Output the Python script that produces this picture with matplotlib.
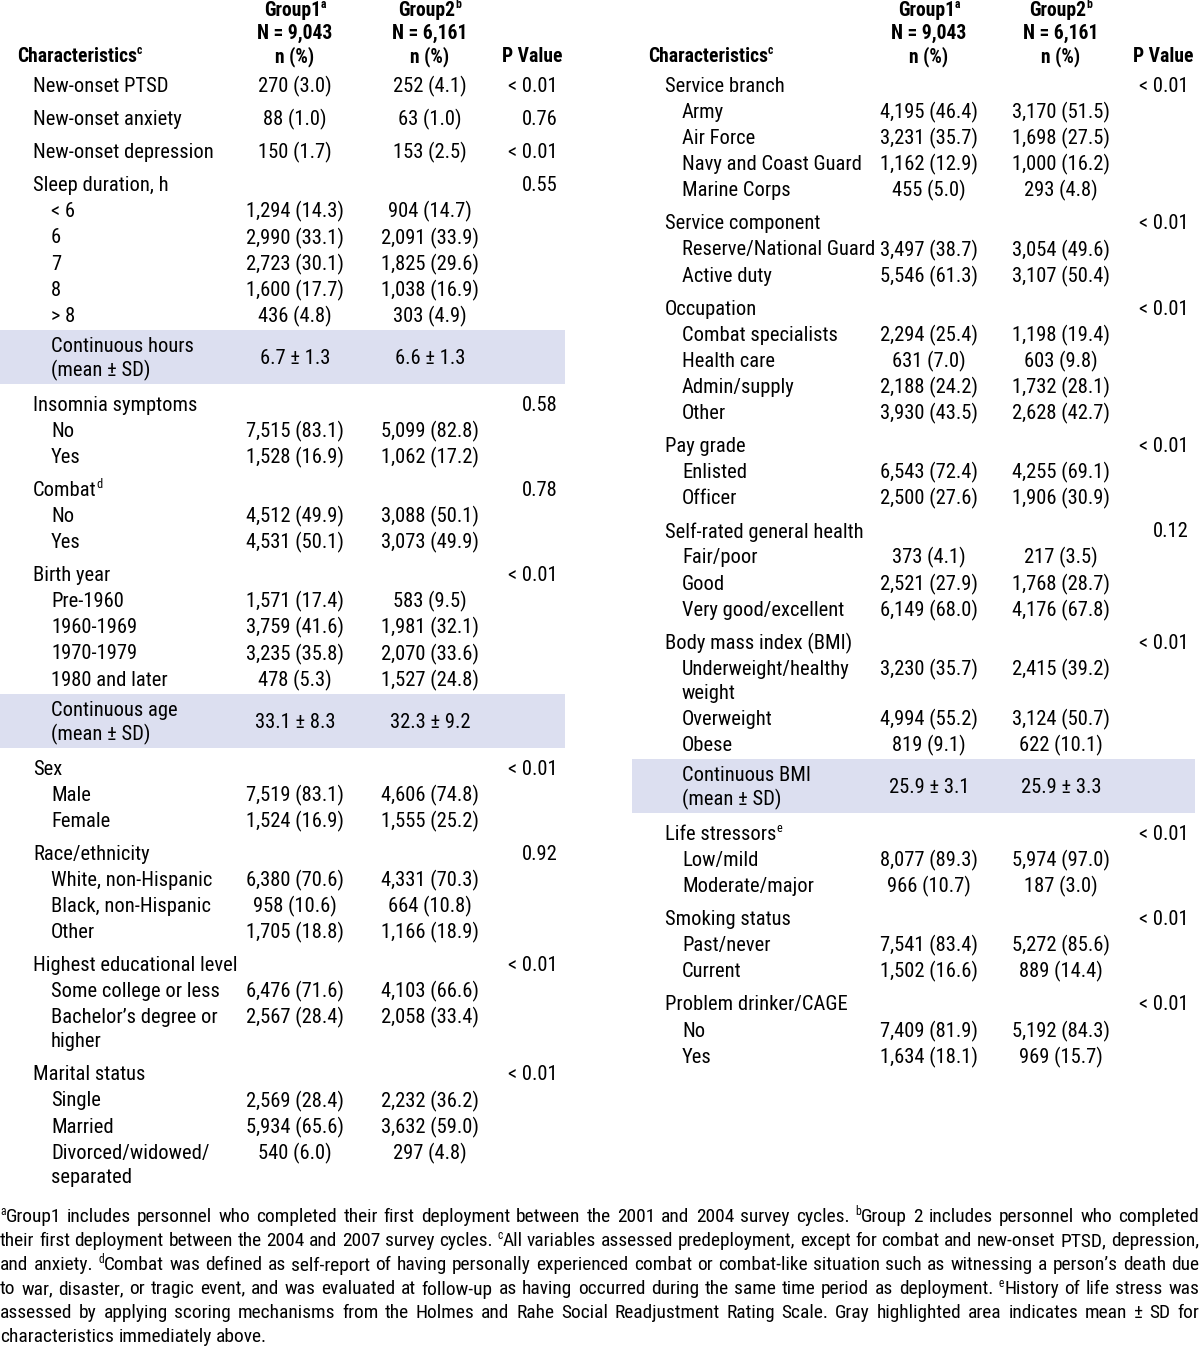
import re
import matplotlib.pyplot as plt
from matplotlib import font_manager
from matplotlib.font_manager import FontProperties
from matplotlib.patches import Rectangle

# ---- data --------------------------------------------------------------
header_g1 = ["Group1^a", "N = 9,043", "n (%)"]
header_g2 = ["Group2^b", "N = 6,161", "n (%)"]
header_char = "Characteristics^c"
header_p = "P Value"

# kinds: var = variable heading, cat = category, mean = mean ± SD row
left_kinds = ["var", "var", "var", "var", "cat", "cat", "cat", "cat", "cat", "mean",
              "var", "cat", "cat", "var", "cat", "cat",
              "var", "cat", "cat", "cat", "cat", "mean",
              "var", "cat", "cat", "var", "cat", "cat", "cat",
              "var", "cat", "cat", "var", "cat", "cat", "cat"]
left_labels = ["New-onset PTSD", "New-onset anxiety", "New-onset depression", "Sleep duration, h",
               "< 6", "6", "7", "8", "> 8", "Continuous hours\n(mean ± SD)",
               "Insomnia symptoms", "No", "Yes", "Combat^d", "No", "Yes",
               "Birth year", "Pre-1960", "1960-1969", "1970-1979", "1980 and later",
               "Continuous age\n(mean ± SD)",
               "Sex", "Male", "Female", "Race/ethnicity", "White, non-Hispanic",
               "Black, non-Hispanic", "Other",
               "Highest educational level", "Some college or less", "Bachelor’s degree or\nhigher",
               "Marital status", "Single", "Married", "Divorced/widowed/\nseparated"]
left_g1 = ["270 (3.0)", "88 (1.0)", "150 (1.7)", "",
           "1,294 (14.3)", "2,990 (33.1)", "2,723 (30.1)", "1,600 (17.7)", "436 (4.8)", "6.7 ± 1.3",
           "", "7,515 (83.1)", "1,528 (16.9)", "", "4,512 (49.9)", "4,531 (50.1)",
           "", "1,571 (17.4)", "3,759 (41.6)", "3,235 (35.8)", "478 (5.3)", "33.1 ± 8.3",
           "", "7,519 (83.1)", "1,524 (16.9)", "", "6,380 (70.6)", "958 (10.6)", "1,705 (18.8)",
           "", "6,476 (71.6)", "2,567 (28.4)", "", "2,569 (28.4)", "5,934 (65.6)", "540 (6.0)"]
left_g2 = ["252 (4.1)", "63 (1.0)", "153 (2.5)", "",
           "904 (14.7)", "2,091 (33.9)", "1,825 (29.6)", "1,038 (16.9)", "303 (4.9)", "6.6 ± 1.3",
           "", "5,099 (82.8)", "1,062 (17.2)", "", "3,088 (50.1)", "3,073 (49.9)",
           "", "583 (9.5)", "1,981 (32.1)", "2,070 (33.6)", "1,527 (24.8)", "32.3 ± 9.2",
           "", "4,606 (74.8)", "1,555 (25.2)", "", "4,331 (70.3)", "664 (10.8)", "1,166 (18.9)",
           "", "4,103 (66.6)", "2,058 (33.4)", "", "2,232 (36.2)", "3,632 (59.0)", "297 (4.8)"]
left_p = ["< 0.01", "0.76", "< 0.01", "0.55", "", "", "", "", "", "",
          "0.58", "", "", "0.78", "", "",
          "< 0.01", "", "", "", "", "",
          "< 0.01", "", "", "0.92", "", "", "",
          "< 0.01", "", "", "< 0.01", "", "", ""]

right_kinds = ["var", "cat", "cat", "cat", "cat", "var", "cat", "cat",
               "var", "cat", "cat", "cat", "cat", "var", "cat", "cat",
               "var", "cat", "cat", "cat", "var", "cat", "cat", "cat", "mean",
               "var", "cat", "cat", "var", "cat", "cat", "var", "cat", "cat"]
right_labels = ["Service branch", "Army", "Air Force", "Navy and Coast Guard", "Marine Corps",
                "Service component", "Reserve/National Guard", "Active duty",
                "Occupation", "Combat specialists", "Health care", "Admin/supply", "Other",
                "Pay grade", "Enlisted", "Officer",
                "Self-rated general health", "Fair/poor", "Good", "Very good/excellent",
                "Body mass index (BMI)", "Underweight/healthy\nweight", "Overweight", "Obese",
                "Continuous BMI\n(mean ± SD)",
                "Life stressors^e", "Low/mild", "Moderate/major",
                "Smoking status", "Past/never", "Current",
                "Problem drinker/CAGE", "No", "Yes"]
right_g1 = ["", "4,195 (46.4)", "3,231 (35.7)", "1,162 (12.9)", "455 (5.0)",
            "", "3,497 (38.7)", "5,546 (61.3)",
            "", "2,294 (25.4)", "631 (7.0)", "2,188 (24.2)", "3,930 (43.5)",
            "", "6,543 (72.4)", "2,500 (27.6)",
            "", "373 (4.1)", "2,521 (27.9)", "6,149 (68.0)",
            "", "3,230 (35.7)", "4,994 (55.2)", "819 (9.1)", "25.9 ± 3.1",
            "", "8,077 (89.3)", "966 (10.7)", "", "7,541 (83.4)", "1,502 (16.6)",
            "", "7,409 (81.9)", "1,634 (18.1)"]
right_g2 = ["", "3,170 (51.5)", "1,698 (27.5)", "1,000 (16.2)", "293 (4.8)",
            "", "3,054 (49.6)", "3,107 (50.4)",
            "", "1,198 (19.4)", "603 (9.8)", "1,732 (28.1)", "2,628 (42.7)",
            "", "4,255 (69.1)", "1,906 (30.9)",
            "", "217 (3.5)", "1,768 (28.7)", "4,176 (67.8)",
            "", "2,415 (39.2)", "3,124 (50.7)", "622 (10.1)", "25.9 ± 3.3",
            "", "5,974 (97.0)", "187 (3.0)", "", "5,272 (85.6)", "889 (14.4)",
            "", "5,192 (84.3)", "969 (15.7)"]
right_p = ["< 0.01", "", "", "", "", "< 0.01", "", "",
           "< 0.01", "", "", "", "", "< 0.01", "", "",
           "0.12", "", "", "", "< 0.01", "", "", "", "",
           "< 0.01", "", "", "< 0.01", "", "", "< 0.01", "", ""]

footnote_lines = [
    "^aGroup1 includes personnel who completed their first deployment between the 2001 and 2004 survey cycles. ^bGroup 2 includes personnel who completed",
    "their first deployment between the 2004 and 2007 survey cycles. ^cAll variables assessed predeployment, except for combat and new-onset PTSD, depression,",
    "and anxiety. ^dCombat was defined as self-report of having personally experienced combat or combat-like situation such as witnessing a person’s death due",
    "to war, disaster, or tragic event, and was evaluated at follow-up as having occurred during the same time period as deployment. ^eHistory of life stress was",
    "assessed by applying scoring mechanisms from the Holmes and Rahe Social Readjustment Rating Scale. Gray highlighted area indicates mean ± SD for",
    "characteristics immediately above.",
]

# ---- font: look for a narrow / condensed sans ---------------------------
def _num(v, table):
    if isinstance(v, str):
        return table.get(v, 400 if table is font_manager.weight_dict else 500)
    return v

prefer = ['Liberation Sans Narrow', 'Roboto Condensed', 'Noto Sans', 'Open Sans',
          'Noto Sans Condensed', 'Open Sans Condensed', 'Roboto', 'Lato', 'Inter']
groups = {}
for f in font_manager.fontManager.ttflist:
    st = _num(f.stretch, font_manager.stretch_dict)
    narrow = st <= 400 or 'Narrow' in f.name or 'Condensed' in f.name
    if not narrow or f.style != 'normal':
        continue
    w = _num(f.weight, font_manager.weight_dict)
    groups.setdefault((f.name, st), {})[w] = f.fname

REG = FontProperties(family='Liberation Sans')
BOLD = FontProperties(family='Liberation Sans', weight='bold')
best = None
for (name, st), faces in groups.items():
    if 400 not in faces or not any(w >= 600 for w in faces):
        continue
    rank = prefer.index(name) if name in prefer else len(prefer)
    key = (rank, abs(st - 300))
    if best is None or key < best[0]:
        bw = min((w for w in faces if w >= 600), key=lambda w: abs(w - 700))
        best = (key, faces[400], faces[bw])
if best is not None:
    REG = FontProperties(fname=best[1])
    BOLD = FontProperties(fname=best[2])

# ---- figure ------------------------------------------------------------
fig = plt.figure(figsize=(12, 13.55), dpi=100)
ax = fig.add_axes([0, 0, 1, 1])
ax.set_xlim(0, 1200)
ax.set_ylim(1355, 0)
ax.axis('off')
renderer = fig.canvas.get_renderer()

HILITE = '#dcdff0'
DY = 1.5  # small baseline nudge


def measure(s, size, fp):
    t = ax.text(0, 0, s, fontproperties=fp, fontsize=size)
    w = t.get_window_extent(renderer).width
    t.remove()
    return w


# fit the size so the text widths match the reference
FS = min(14 * 136 / measure("New-onset PTSD", 14, REG), 16)
FSB = min(14 * 120 / measure("Characteristics", 14, BOLD), 16)


def rich(x, y, s, ha='left', size=None, bold=False, draw=True):
    # text with ^x superscripts; returns total width in px
    if size is None:
        size = FSB if bold else FS
    fp = BOLD if bold else REG
    parts = re.split(r'(\^\w)', s)
    segs = []
    for p in parts:
        if not p:
            continue
        if p.startswith('^'):
            t = ax.text(0, y + DY - 6, p[1:], fontproperties=fp, fontsize=size * 0.6, va='center')
        else:
            t = ax.text(0, y + DY, p, fontproperties=fp, fontsize=size, va='center')
        segs.append((t, t.get_window_extent(renderer).width))
    total = sum(w for _, w in segs)
    if ha == 'center':
        x0 = x - total / 2
    elif ha == 'right':
        x0 = x - total
    else:
        x0 = x
    for t, w in segs:
        if draw:
            t.set_x(x0)
        else:
            t.remove()
        x0 += w
    return total


ROW, GROUP, WRAP = 26.08, 33.1, 24


def draw_table(kinds, labels, g1, g2, pv, col):
    y = 85
    last = None
    prev = None
    for k, lab, a, b, p in zip(kinds, labels, g1, g2, pv):
        lines = lab.split('\n')
        if prev is not None:
            if k == 'mean':
                y = last + 15 + 27
            elif prev == 'mean':
                y = last + 20
            elif k == 'var':
                y = last + GROUP
            else:
                y = last + ROW
        if k == 'mean':
            ax.add_patch(Rectangle((col['box'][0], y - 27), col['box'][1] - col['box'][0], 54,
                                   facecolor=HILITE, edgecolor='none', zorder=0))
            for i, ln in enumerate(lines):
                rich(col['cat'], y - 12 + WRAP * i, ln)
            last = y + 27
        else:
            xl = col['var'] if k == 'var' else col['cat']
            for i, ln in enumerate(lines):
                rich(xl, y + WRAP * i, ln)
            last = y + WRAP * (len(lines) - 1)
        if a:
            rich(col['g1'], y, a, ha='center')
        if b:
            rich(col['g2'], y, b, ha='center')
        if p:
            rich(col['p'], y, p, ha='right')
        prev = k

    # header
    for i, (h1, h2) in enumerate(zip(header_g1, header_g2)):
        rich(col['g1'], 9 + 23 * i, h1, ha='center', bold=True)
        rich(col['g2'], 9 + 23 * i, h2, ha='center', bold=True)
    rich(col['head'], 55, header_char, bold=True)
    rich(col['ph'], 55, header_p, ha='center', bold=True)


left_cols = dict(head=17, var=33, cat=51, g1=295, g2=430, p=558, ph=532, box=(0, 565))
right_cols = dict(head=648, var=665, cat=682, g1=929, g2=1061, p=1189, ph=1163, box=(632, 1195))

draw_table(left_kinds, left_labels, left_g1, left_g2, left_p, left_cols)
draw_table(right_kinds, right_labels, right_g1, right_g2, right_p, right_cols)

# footnote, justified to full width
fn_size = FS
space_w = measure("a a", fn_size, REG) - measure("aa", fn_size, REG)
natural = [sum(rich(0, 0, w, size=fn_size, draw=False) for w in ln.split(' '))
           + space_w * (len(ln.split(' ')) - 1) for ln in footnote_lines]
if max(natural) > 1196:
    fn_size = fn_size * 1196 / max(natural)
    space_w = measure("a a", fn_size, REG) - measure("aa", fn_size, REG)

for i, line in enumerate(footnote_lines):
    y = 1216 + 24 * i
    words = line.split(' ')
    widths = [rich(0, y, w, size=fn_size, draw=False) for w in words]
    if i < len(footnote_lines) - 1:
        gap = (1199 - sum(widths)) / (len(words) - 1)
    else:
        gap = space_w
    x = 0
    for w, wd in zip(words, widths):
        rich(x, y, w, size=fn_size)
        x += wd + gap

fig.savefig('out.png', dpi=100)
